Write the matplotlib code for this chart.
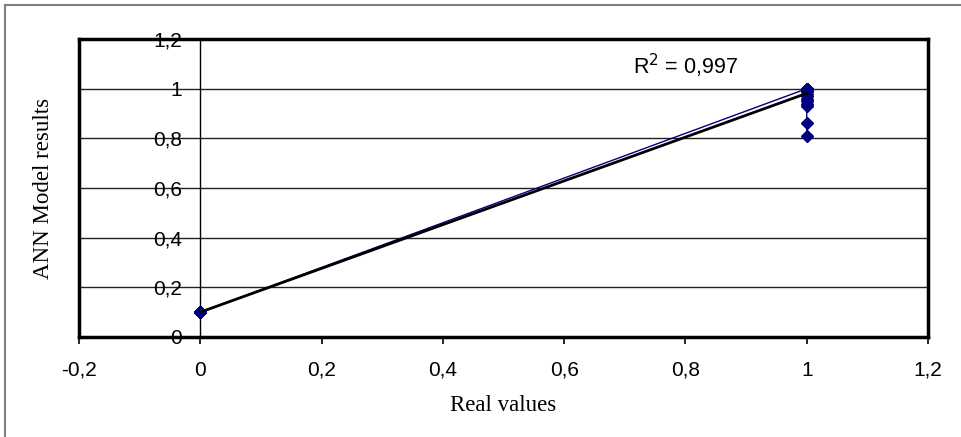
import numpy as np
import matplotlib
matplotlib.use("Agg")
import matplotlib.pyplot as plt
from matplotlib.lines import Line2D

# data (many points overlap at x=0 and near y=1)
real_vals = [0, 0, 0, 0, 0, 0, 0, 0, 0, 0,
             1, 1, 1, 1, 1, 1, 1, 1, 1, 1, 1, 1, 1, 1, 1, 1, 1, 1, 1, 1,
             1, 1, 1, 1, 1, 1, 1, 1, 1, 1, 1, 1, 1, 1, 1, 1]
ann_vals = [0.10, 0.10, 0.10, 0.10, 0.10, 0.10, 0.10, 0.10, 0.10, 0.10,
            1.00, 1.00, 1.00, 1.00, 1.00, 1.00, 1.00, 1.00, 1.00, 1.00,
            1.00, 1.00, 1.00, 1.00, 1.00, 1.00, 1.00, 1.00, 1.00, 1.00,
            0.99, 0.99, 0.99, 0.99, 0.99, 0.99, 0.99, 0.99,
            0.98, 0.97, 0.96, 0.95, 0.94, 0.93, 0.86, 0.81]
x_ticks = [-0.2, 0, 0.2, 0.4, 0.6, 0.8, 1, 1.2]
y_ticks = [0, 0.2, 0.4, 0.6, 0.8, 1, 1.2]
r2_text = "R$^2$ = 0,997"

def comma(v):
    s = ("%g" % round(v, 2))
    return s.replace(".", ",")

fig = plt.figure(figsize=(9.62, 4.37), dpi=100)
ax = fig.add_axes([79 / 962, 1 - 337 / 437, (928 - 79) / 962, (337 - 39) / 437])

ax.set_xlim(-0.2, 1.2)
ax.set_ylim(0, 1.2)

# horizontal gridlines
for yv in y_ticks[1:-1]:
    ax.axhline(yv, color="#222222", lw=1.0, zorder=1)

# series (line + markers) and linear trendline
ax.plot(real_vals, ann_vals, color="#000080", lw=1.0, marker="D", ms=6,
        zorder=3)
coef = np.polyfit(real_vals, ann_vals, 1)
tx = np.array([0, 1])
ax.plot(tx, np.polyval(coef, tx), color="black", lw=2.0, zorder=4)

# frame
for s in ax.spines.values():
    s.set_linewidth(2.5)
    s.set_color("black")
ax.spines["left"].set_position(("data", 0))
ax.spines["left"].set_linewidth(1.0)
ax.axvline(-0.2, color="black", lw=2.5, clip_on=False, zorder=5)

ax.set_xticks(x_ticks)
ax.set_xticklabels([comma(v) for v in x_ticks], fontfamily="Liberation Sans",
                   fontsize=15)
ax.set_yticks(y_ticks)
ax.set_yticklabels([comma(v) for v in y_ticks], fontfamily="Liberation Sans",
                   fontsize=15)
ax.tick_params(axis="x", length=5, width=1.2, pad=12)
ax.tick_params(axis="y", length=0, pad=13)

ax.set_xlabel("Real values", fontfamily="Liberation Serif", fontsize=16.5,
              labelpad=11)
ax.set_ylabel("ANN Model results", fontfamily="Liberation Serif", fontsize=16.5)
ax.yaxis.set_label_coords(-0.03, 0.5)

ax.text(0.8, 1.09, r2_text, fontfamily="Liberation Sans", fontsize=15.5,
        ha="center", va="center")

# outer border (top and left only visible)
fig.add_artist(Line2D([5 / 962, 5 / 962], [0, 1 - 5 / 437], color="#808080",
                      lw=1.5, transform=fig.transFigure))
fig.add_artist(Line2D([5 / 962, 1], [1 - 5 / 437, 1 - 5 / 437], color="#808080",
                      lw=1.5, transform=fig.transFigure))

fig.savefig("out.png", dpi=100)
